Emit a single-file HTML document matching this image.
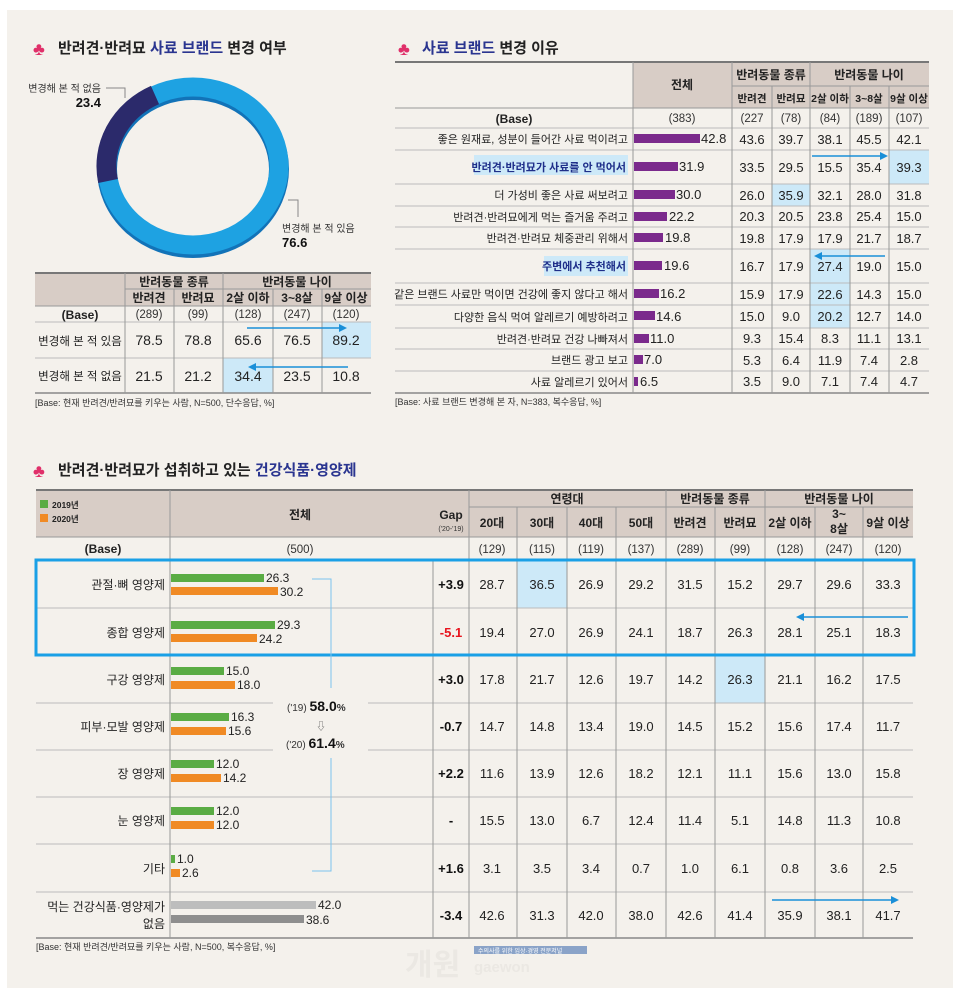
<!DOCTYPE html>
<html><head><meta charset="utf-8"><style>
html,body{margin:0;padding:0;background:#fff;}
svg{display:block;font-family:"Liberation Sans","Noto Sans CJK KR",sans-serif;}
.h{font-weight:bold;font-size:12px;fill:#222;}
.v{font-size:13px;fill:#222;}
.b{font-size:11.5px;fill:#333;}
.l{font-size:11.5px;fill:#222;}
.l2{font-size:11px;fill:#222;}
</style></head><body>
<svg width="960" height="997" viewBox="0 0 960 997" xmlns="http://www.w3.org/2000/svg">
<rect x="7" y="10" width="946" height="978" fill="#f4f1ec"/>

<!-- ===== Section 1 ===== -->
<text x="33" y="55" font-size="18" fill="#e0306a">♣</text>
<text x="58" y="53" font-size="15" font-weight="bold" fill="#222">반려견·반려묘 <tspan fill="#2a3590">사료 브랜드</tspan> 변경 여부</text>

<ellipse cx="193" cy="169" rx="86" ry="79" fill="none" stroke="#1273b8" stroke-width="20"/>
<ellipse cx="193" cy="166" rx="86" ry="79" fill="none" stroke="#1ea2e2" stroke-width="19"/>
<path d="M155,95 A86,79 0 0 0 108,181" fill="none" stroke="#2b2a6b" stroke-width="20"/>
<polyline points="106,88 125,88 125,98" fill="none" stroke="#888" stroke-width="1"/>
<text x="101" y="92" font-size="10" fill="#333" text-anchor="end">변경해 본 적 없음</text>
<text x="101" y="107" font-size="13" font-weight="bold" fill="#111" text-anchor="end">23.4</text>
<polyline points="288,200 298,200 298,217" fill="none" stroke="#888" stroke-width="1"/>
<text x="282" y="232" font-size="10" fill="#333">변경해 본 적 있음</text>
<text x="282" y="247" font-size="13" font-weight="bold" fill="#111">76.6</text>

<!-- table 1 -->
<rect x="35" y="273" width="336" height="33" fill="#d8cdc6"/>
<rect x="322" y="322" width="49" height="36" fill="#cde9f8"/>
<rect x="223" y="358" width="50" height="35" fill="#cde9f8"/>
<line x1="35" y1="273" x2="371" y2="273" stroke="#777" stroke-width="2"/>
<line x1="125" y1="289" x2="371" y2="289" stroke="#999"/>
<line x1="35" y1="306" x2="371" y2="306" stroke="#999"/>
<line x1="35" y1="322" x2="371" y2="322" stroke="#bbb"/>
<line x1="35" y1="358" x2="371" y2="358" stroke="#bbb"/>
<line x1="35" y1="393" x2="371" y2="393" stroke="#888" stroke-width="1.5"/>
<g stroke="#999"><line x1="125" y1="273" x2="125" y2="393"/><line x1="174" y1="289" x2="174" y2="393"/><line x1="223" y1="273" x2="223" y2="393"/><line x1="273" y1="289" x2="273" y2="393"/><line x1="322" y1="289" x2="322" y2="393"/></g>
<g class="h" text-anchor="middle">
<text x="174" y="286">반려동물 종류</text><text x="297" y="286">반려동물 나이</text>
<text x="149" y="302">반려견</text><text x="198" y="302">반려묘</text><text x="248" y="302">2살 이하</text><text x="297" y="302">3~8살</text><text x="346" y="302">9살 이상</text>
<text x="80" y="319">(Base)</text>
</g>
<g class="b" text-anchor="middle"><text x="149" y="318">(289)</text><text x="198" y="318">(99)</text><text x="248" y="318">(128)</text><text x="297" y="318">(247)</text><text x="346" y="318">(120)</text></g>
<g class="l" text-anchor="middle"><text x="80" y="345">변경해 본 적 있음</text><text x="80" y="380">변경해 본 적 없음</text></g>
<g font-size="14" fill="#222" text-anchor="middle">
<text x="149" y="345">78.5</text><text x="198" y="345">78.8</text><text x="248" y="345">65.6</text><text x="297" y="345">76.5</text><text x="346" y="345">89.2</text>
<text x="149" y="381">21.5</text><text x="198" y="381">21.2</text><text x="248" y="381">34.4</text><text x="297" y="381">23.5</text><text x="346" y="381">10.8</text>
</g>
<line x1="247" y1="328" x2="341" y2="328" stroke="#1a8fd8" stroke-width="1.5"/><polygon points="347,328 339,324 339,332" fill="#1a8fd8"/>
<line x1="348" y1="367" x2="254" y2="367" stroke="#1a8fd8" stroke-width="1.5"/><polygon points="248,367 256,363 256,371" fill="#1a8fd8"/>
<text x="35" y="406" font-size="9" fill="#333">[Base: 현재 반려견/반려묘를 키우는 사람, N=500, 단수응답, %]</text>

<!-- ===== Section 2 ===== -->
<text x="398" y="55" font-size="18" fill="#e0306a">♣</text>
<text x="422" y="53" font-size="15" font-weight="bold" fill="#222"><tspan fill="#2a3590">사료 브랜드</tspan> 변경 이유</text>
<rect x="633" y="62" width="296" height="46" fill="#d8cdc6"/>
<rect x="889" y="150" width="40" height="34" fill="#cde9f8"/>
<rect x="772" y="184" width="38" height="22" fill="#cde9f8"/>
<rect x="810" y="249" width="40" height="34" fill="#cde9f8"/>
<rect x="810" y="283" width="40" height="45" fill="#cde9f8"/>
<line x1="395" y1="62" x2="929" y2="62" stroke="#777" stroke-width="2"/>
<line x1="732" y1="86" x2="929" y2="86" stroke="#999"/>
<g stroke="#bbb">
<line x1="395" y1="108" x2="929" y2="108" stroke="#999"/>
<line x1="395" y1="128" x2="929" y2="128"/><line x1="395" y1="150" x2="929" y2="150"/><line x1="395" y1="184" x2="929" y2="184"/><line x1="395" y1="206" x2="929" y2="206"/><line x1="395" y1="227" x2="929" y2="227"/><line x1="395" y1="249" x2="929" y2="249"/><line x1="395" y1="283" x2="929" y2="283"/><line x1="395" y1="305" x2="929" y2="305"/><line x1="395" y1="328" x2="929" y2="328"/><line x1="395" y1="349" x2="929" y2="349"/><line x1="395" y1="371" x2="929" y2="371"/>
</g>
<line x1="395" y1="393" x2="929" y2="393" stroke="#888" stroke-width="1.5"/>
<g stroke="#999"><line x1="633" y1="62" x2="633" y2="393"/><line x1="732" y1="62" x2="732" y2="393"/><line x1="772" y1="86" x2="772" y2="393"/><line x1="810" y1="62" x2="810" y2="393"/><line x1="850" y1="86" x2="850" y2="393"/><line x1="889" y1="86" x2="889" y2="393"/></g>
<g class="h" text-anchor="middle">
<text x="682" y="89">전체</text><text x="771" y="79">반려동물 종류</text><text x="869" y="79">반려동물 나이</text>
<text x="514" y="123">(Base)</text>
</g>
<g font-size="10.5" font-weight="bold" fill="#222" text-anchor="middle"><text x="752" y="102">반려견</text><text x="791" y="102">반려묘</text><text x="830" y="102">2살 이하</text><text x="869" y="102">3~8살</text><text x="909" y="102">9살 이상</text></g>
<g class="b" text-anchor="middle"><text x="682" y="122">(383)</text><text x="752" y="122">(227</text><text x="791" y="122">(78)</text><text x="830" y="122">(84)</text><text x="869" y="122">(189)</text><text x="909" y="122">(107)</text></g>
<rect x="474" y="155" width="154" height="20" fill="#cde9f8"/>
<rect x="544" y="256" width="84" height="20" fill="#cde9f8"/>
<g class="l2" text-anchor="end">
<text x="628" y="143">좋은 원재료, 성분이 들어간 사료 먹이려고</text>
<text x="626" y="171" fill="#1f2f8a" font-weight="bold">반려견·반려묘가 사료를 안 먹어서</text>
<text x="628" y="199">더 가성비 좋은 사료 써보려고</text>
<text x="628" y="221">반려견·반려묘에게 먹는 즐거움 주려고</text>
<text x="628" y="242">반려견·반려묘 체중관리 위해서</text>
<text x="626" y="270" fill="#1f2f8a" font-weight="bold">주변에서 추천해서</text>
<text x="628" y="298">같은 브랜드 사료만 먹이면 건강에 좋지 않다고 해서</text>
<text x="628" y="321">다양한 음식 먹여 알레르기 예방하려고</text>
<text x="628" y="343">반려견·반려묘 건강 나빠져서</text>
<text x="628" y="364">브랜드 광고 보고</text>
<text x="628" y="386">사료 알레르기 있어서</text>
</g>
<g fill="#7b2a8c">
<rect x="634" y="134" width="66" height="9"/><rect x="634" y="162" width="44" height="9"/><rect x="634" y="190" width="41" height="9"/><rect x="634" y="212" width="33" height="9"/><rect x="634" y="233" width="29" height="9"/><rect x="634" y="261" width="28" height="9"/><rect x="634" y="289" width="25" height="9"/><rect x="634" y="311" width="21" height="9"/><rect x="634" y="334" width="15" height="9"/><rect x="634" y="355" width="9" height="9"/><rect x="634" y="377" width="4" height="9"/>
</g>
<g class="v">
<text x="701" y="143">42.8</text><text x="679" y="171">31.9</text><text x="676" y="199">30.0</text><text x="669" y="221">22.2</text><text x="665" y="242">19.8</text><text x="664" y="270">19.6</text><text x="660" y="298">16.2</text><text x="656" y="321">14.6</text><text x="650" y="343">11.0</text><text x="644" y="364">7.0</text><text x="640" y="386">6.5</text>
</g>
<g class="v" text-anchor="middle">
<text x="752" y="144">43.6</text><text x="791" y="144">39.7</text><text x="830" y="144">38.1</text><text x="869" y="144">45.5</text><text x="909" y="144">42.1</text>
<text x="752" y="172">33.5</text><text x="791" y="172">29.5</text><text x="830" y="172">15.5</text><text x="869" y="172">35.4</text><text x="909" y="172">39.3</text>
<text x="752" y="200">26.0</text><text x="791" y="200">35.9</text><text x="830" y="200">32.1</text><text x="869" y="200">28.0</text><text x="909" y="200">31.8</text>
<text x="752" y="221">20.3</text><text x="791" y="221">20.5</text><text x="830" y="221">23.8</text><text x="869" y="221">25.4</text><text x="909" y="221">15.0</text>
<text x="752" y="243">19.8</text><text x="791" y="243">17.9</text><text x="830" y="243">17.9</text><text x="869" y="243">21.7</text><text x="909" y="243">18.7</text>
<text x="752" y="271">16.7</text><text x="791" y="271">17.9</text><text x="830" y="271">27.4</text><text x="869" y="271">19.0</text><text x="909" y="271">15.0</text>
<text x="752" y="299">15.9</text><text x="791" y="299">17.9</text><text x="830" y="299">22.6</text><text x="869" y="299">14.3</text><text x="909" y="299">15.0</text>
<text x="752" y="321">15.0</text><text x="791" y="321">9.0</text><text x="830" y="321">20.2</text><text x="869" y="321">12.7</text><text x="909" y="321">14.0</text>
<text x="752" y="343">9.3</text><text x="791" y="343">15.4</text><text x="830" y="343">8.3</text><text x="869" y="343">11.1</text><text x="909" y="343">13.1</text>
<text x="752" y="365">5.3</text><text x="791" y="365">6.4</text><text x="830" y="365">11.9</text><text x="869" y="365">7.4</text><text x="909" y="365">2.8</text>
<text x="752" y="386">3.5</text><text x="791" y="386">9.0</text><text x="830" y="386">7.1</text><text x="869" y="386">7.4</text><text x="909" y="386">4.7</text>
</g>
<line x1="812" y1="156" x2="882" y2="156" stroke="#1a8fd8" stroke-width="1.5"/><polygon points="888,156 880,152 880,160" fill="#1a8fd8"/>
<line x1="885" y1="256" x2="820" y2="256" stroke="#1a8fd8" stroke-width="1.5"/><polygon points="814,256 822,252 822,260" fill="#1a8fd8"/>
<text x="395" y="405" font-size="9" fill="#333">[Base: 사료 브랜드 변경해 본 자, N=383, 복수응답, %]</text>

<!-- ===== Section 3 ===== -->
<text x="33" y="477" font-size="18" fill="#e0306a">♣</text>
<text x="58" y="475" font-size="15" font-weight="bold" fill="#222">반려견·반려묘가 섭취하고 있는 <tspan fill="#2a3590">건강식품·영양제</tspan></text>
<rect x="36" y="490" width="877" height="47" fill="#d8cdc6"/>
<rect x="517" y="560" width="50" height="48" fill="#cde9f8"/>
<rect x="715" y="656" width="50" height="47" fill="#cde9f8"/>
<line x1="36" y1="490" x2="913" y2="490" stroke="#777" stroke-width="2"/>
<line x1="469" y1="507" x2="913" y2="507" stroke="#999"/>
<line x1="36" y1="537" x2="913" y2="537" stroke="#999"/>
<g stroke="#bbb">
<line x1="36" y1="608" x2="913" y2="608"/><line x1="36" y1="656" x2="913" y2="656"/>
<line x1="36" y1="703" x2="273" y2="703"/><line x1="368" y1="703" x2="913" y2="703"/>
<line x1="36" y1="750" x2="273" y2="750"/><line x1="368" y1="750" x2="913" y2="750"/>
<line x1="36" y1="797" x2="913" y2="797"/><line x1="36" y1="844" x2="913" y2="844"/><line x1="36" y1="892" x2="913" y2="892"/>
</g>
<line x1="36" y1="938" x2="913" y2="938" stroke="#888" stroke-width="1.5"/>
<g stroke="#999">
<line x1="170" y1="490" x2="170" y2="938"/><line x1="433" y1="560" x2="433" y2="938"/><line x1="469" y1="490" x2="469" y2="938"/>
<line x1="517" y1="507" x2="517" y2="938"/><line x1="567" y1="507" x2="567" y2="938"/><line x1="616" y1="507" x2="616" y2="938"/><line x1="666" y1="490" x2="666" y2="938"/>
<line x1="715" y1="507" x2="715" y2="938"/><line x1="765" y1="490" x2="765" y2="938"/><line x1="815" y1="507" x2="815" y2="938"/><line x1="863" y1="507" x2="863" y2="938"/>
</g>
<rect x="36" y="560" width="878" height="95" fill="none" stroke="#1aa0e6" stroke-width="3"/>
<rect x="40" y="500" width="8" height="8" fill="#5aac44"/><text x="52" y="508" font-size="8.5" font-weight="bold" fill="#222">2019년</text>
<rect x="40" y="514" width="8" height="8" fill="#f08a24"/><text x="52" y="522" font-size="8.5" font-weight="bold" fill="#222">2020년</text>
<g class="h" text-anchor="middle">
<text x="300" y="519">전체</text>
<text x="567" y="503">연령대</text><text x="715" y="503">반려동물 종류</text><text x="839" y="503">반려동물 나이</text>
<text x="492" y="527">20대</text><text x="542" y="527">30대</text><text x="591" y="527">40대</text><text x="641" y="527">50대</text><text x="690" y="527">반려견</text><text x="740" y="527">반려묘</text><text x="790" y="527">2살 이하</text><text x="839" y="518">3~</text><text x="839" y="533">8살</text><text x="888" y="527">9살 이상</text>
<text x="451" y="519">Gap</text>
<text x="103" y="553">(Base)</text>
</g>
<text x="451" y="531" font-size="7" fill="#333" text-anchor="middle">('20-'19)</text>
<g class="b" text-anchor="middle">
<text x="300" y="553">(500)</text>
<text x="492" y="553">(129)</text><text x="542" y="553">(115)</text><text x="591" y="553">(119)</text><text x="641" y="553">(137)</text><text x="690" y="553">(289)</text><text x="740" y="553">(99)</text><text x="790" y="553">(128)</text><text x="839" y="553">(247)</text><text x="888" y="553">(120)</text>
</g>
<g font-size="12" fill="#222" text-anchor="end">
<text x="165" y="589">관절·뼈 영양제</text><text x="165" y="637">종합 영양제</text><text x="165" y="684">구강 영양제</text><text x="165" y="731">피부·모발 영양제</text><text x="165" y="778">장 영양제</text><text x="165" y="825">눈 영양제</text><text x="165" y="873">기타</text>
<text x="165" y="911">먹는 건강식품·영양제가</text><text x="165" y="928">없음</text>
</g>
<g fill="#5aac44">
<rect x="171" y="574" width="93" height="8"/><rect x="171" y="621" width="104" height="8"/><rect x="171" y="667" width="53" height="8"/><rect x="171" y="713" width="58" height="8"/><rect x="171" y="760" width="43" height="8"/><rect x="171" y="807" width="43" height="8"/><rect x="171" y="855" width="4" height="8"/>
</g>
<g fill="#f08a24">
<rect x="171" y="587" width="107" height="8"/><rect x="171" y="634" width="86" height="8"/><rect x="171" y="681" width="64" height="8"/><rect x="171" y="727" width="55" height="8"/><rect x="171" y="774" width="50" height="8"/><rect x="171" y="821" width="43" height="8"/><rect x="171" y="869" width="9" height="8"/>
</g>
<rect x="171" y="901" width="145" height="8" fill="#bdbdbd"/><rect x="171" y="915" width="133" height="8" fill="#8e8e8e"/>
<g font-size="12" fill="#222">
<text x="266" y="582">26.3</text><text x="280" y="596">30.2</text>
<text x="277" y="629">29.3</text><text x="259" y="643">24.2</text>
<text x="226" y="675">15.0</text><text x="237" y="689">18.0</text>
<text x="231" y="721">16.3</text><text x="228" y="735">15.6</text>
<text x="216" y="768">12.0</text><text x="223" y="782">14.2</text>
<text x="216" y="815">12.0</text><text x="216" y="829">12.0</text>
<text x="177" y="863">1.0</text><text x="182" y="877">2.6</text>
<text x="318" y="909">42.0</text><text x="306" y="924">38.6</text>
</g>
<polyline points="312,579 331,579 331,688" fill="none" stroke="#7cc4ee" stroke-width="1"/>
<polyline points="331,758 331,871 312,871" fill="none" stroke="#7cc4ee" stroke-width="1"/>
<text x="287" y="711" font-size="10" fill="#333">('19) <tspan font-size="14" font-weight="bold" fill="#111">58.0</tspan><tspan font-weight="bold">%</tspan></text>
<text x="321" y="730" font-size="10" fill="#666" text-anchor="middle">⇩</text>
<text x="286" y="748" font-size="10" fill="#333">('20) <tspan font-size="14" font-weight="bold" fill="#111">61.4</tspan><tspan font-weight="bold">%</tspan></text>
<g font-size="13" font-weight="bold" fill="#111" text-anchor="middle">
<text x="451" y="589">+3.9</text><text x="451" y="637" fill="#e8141e">-5.1</text><text x="451" y="684">+3.0</text><text x="451" y="731">-0.7</text><text x="451" y="778">+2.2</text><text x="451" y="825">-</text><text x="451" y="873">+1.6</text><text x="451" y="920">-3.4</text>
</g>
<g class="v" text-anchor="middle">
<text x="492" y="589">28.7</text><text x="542" y="589">36.5</text><text x="591" y="589">26.9</text><text x="641" y="589">29.2</text><text x="690" y="589">31.5</text><text x="740" y="589">15.2</text><text x="790" y="589">29.7</text><text x="839" y="589">29.6</text><text x="888" y="589">33.3</text>
<text x="492" y="637">19.4</text><text x="542" y="637">27.0</text><text x="591" y="637">26.9</text><text x="641" y="637">24.1</text><text x="690" y="637">18.7</text><text x="740" y="637">26.3</text><text x="790" y="637">28.1</text><text x="839" y="637">25.1</text><text x="888" y="637">18.3</text>
<text x="492" y="684">17.8</text><text x="542" y="684">21.7</text><text x="591" y="684">12.6</text><text x="641" y="684">19.7</text><text x="690" y="684">14.2</text><text x="740" y="684">26.3</text><text x="790" y="684">21.1</text><text x="839" y="684">16.2</text><text x="888" y="684">17.5</text>
<text x="492" y="731">14.7</text><text x="542" y="731">14.8</text><text x="591" y="731">13.4</text><text x="641" y="731">19.0</text><text x="690" y="731">14.5</text><text x="740" y="731">15.2</text><text x="790" y="731">15.6</text><text x="839" y="731">17.4</text><text x="888" y="731">11.7</text>
<text x="492" y="778">11.6</text><text x="542" y="778">13.9</text><text x="591" y="778">12.6</text><text x="641" y="778">18.2</text><text x="690" y="778">12.1</text><text x="740" y="778">11.1</text><text x="790" y="778">15.6</text><text x="839" y="778">13.0</text><text x="888" y="778">15.8</text>
<text x="492" y="825">15.5</text><text x="542" y="825">13.0</text><text x="591" y="825">6.7</text><text x="641" y="825">12.4</text><text x="690" y="825">11.4</text><text x="740" y="825">5.1</text><text x="790" y="825">14.8</text><text x="839" y="825">11.3</text><text x="888" y="825">10.8</text>
<text x="492" y="873">3.1</text><text x="542" y="873">3.5</text><text x="591" y="873">3.4</text><text x="641" y="873">0.7</text><text x="690" y="873">1.0</text><text x="740" y="873">6.1</text><text x="790" y="873">0.8</text><text x="839" y="873">3.6</text><text x="888" y="873">2.5</text>
<text x="492" y="920">42.6</text><text x="542" y="920">31.3</text><text x="591" y="920">42.0</text><text x="641" y="920">38.0</text><text x="690" y="920">42.6</text><text x="740" y="920">41.4</text><text x="790" y="920">35.9</text><text x="839" y="920">38.1</text><text x="888" y="920">41.7</text>
</g>
<line x1="908" y1="617" x2="802" y2="617" stroke="#1a8fd8" stroke-width="1.5"/><polygon points="796,617 804,613 804,621" fill="#1a8fd8"/>
<line x1="772" y1="900" x2="893" y2="900" stroke="#1a8fd8" stroke-width="1.5"/><polygon points="899,900 891,896 891,904" fill="#1a8fd8"/>
<text x="36" y="950" font-size="9" fill="#333">[Base: 현재 반려견/반려묘를 키우는 사람, N=500, 복수응답, %]</text>
<rect x="474" y="946" width="113" height="8" fill="#8aa3c8"/>
<text x="478" y="953" font-size="6" fill="#fff">수의사를 위한 임상·경영 전문저널</text>
<text x="405" y="975" font-size="30" font-weight="bold" fill="#ebe8e3">개원</text>
<text x="474" y="972" font-size="15" font-weight="bold" fill="#ebe8e3">gaewon</text>
</svg>
</body></html>
